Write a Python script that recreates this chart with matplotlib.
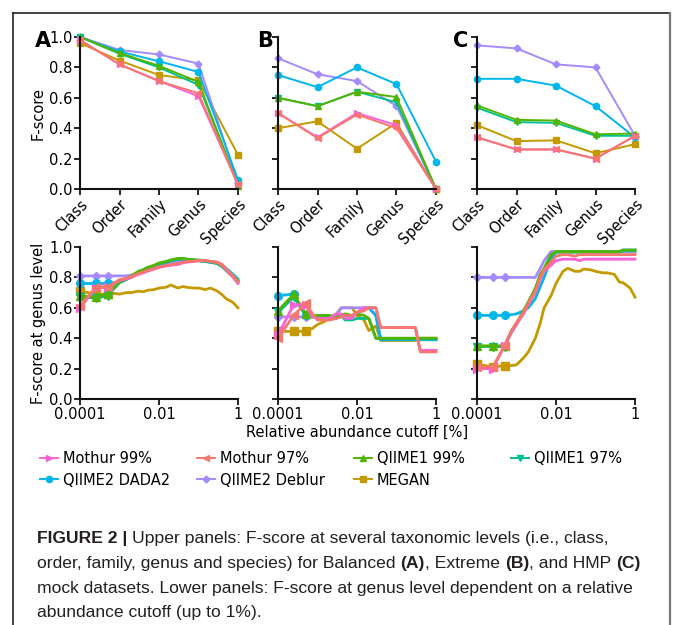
import numpy as np
import matplotlib
matplotlib.use('Agg')
import matplotlib.pyplot as plt
from matplotlib import font_manager

W, H = 673, 625

methods = ['Mothur 99%', 'Mothur 97%', 'QIIME1 99%', 'QIIME1 97%',
           'QIIME2 DADA2', 'QIIME2 Deblur', 'MEGAN']
colors = ['#FB61D7', '#F8766D', '#53B400', '#00C094', '#00B6EB', '#A58AFF', '#C49A00']
markers = ['>', '<', '^', 'v', 'o', 'D', 's']
levels = ['Class', 'Order', 'Family', 'Genus', 'Species']

# Upper panels: F-score per taxonomic level (order of methods as above)
fs_A = [
    [0.98, 0.82, 0.71, 0.61, 0.03],
    [0.98, 0.82, 0.71, 0.63, 0.03],
    [1.00, 0.895, 0.81, 0.705, 0.02],
    [1.00, 0.89, 0.80, 0.685, 0.03],
    [1.00, 0.905, 0.84, 0.77, 0.06],
    [1.00, 0.915, 0.885, 0.825, 0.04],
    [0.96, 0.845, 0.75, 0.715, 0.225],
]
fs_B = [
    [0.50, 0.34, 0.50, 0.42, 0.00],
    [0.50, 0.335, 0.49, 0.40, 0.00],
    [0.60, 0.545, 0.64, 0.605, 0.00],
    [0.60, 0.545, 0.64, 0.57, 0.00],
    [0.75, 0.67, 0.80, 0.69, 0.18],
    [0.86, 0.755, 0.71, 0.545, 0.00],
    [0.40, 0.445, 0.265, 0.435, 0.00],
]
fs_C = [
    [0.34, 0.26, 0.26, 0.20, 0.35],
    [0.34, 0.26, 0.26, 0.20, 0.35],
    [0.55, 0.455, 0.45, 0.36, 0.365],
    [0.535, 0.44, 0.435, 0.35, 0.35],
    [0.725, 0.725, 0.68, 0.545, 0.34],
    [0.945, 0.925, 0.82, 0.80, 0.35],
    [0.42, 0.315, 0.32, 0.235, 0.295],
]

# Lower panels: F-score at genus level vs relative abundance cutoff [%]
cutoffs = [0.0001, 0.00025, 0.0005, 0.00075, 0.001, 0.0015, 0.002, 0.003, 0.004,
           0.005, 0.0075, 0.01, 0.015, 0.02, 0.03, 0.04, 0.05, 0.075, 0.1, 0.15,
           0.2, 0.3, 0.4, 0.5, 0.75, 1.0]

cut_A = [
    [0.60, 0.73, 0.735, 0.76, 0.78, 0.79, 0.80, 0.82, 0.83, 0.84, 0.855, 0.865, 0.875,
     0.88, 0.885, 0.895, 0.90, 0.905, 0.91, 0.91, 0.905, 0.90, 0.88, 0.85, 0.80, 0.76],
    [0.61, 0.735, 0.74, 0.765, 0.785, 0.795, 0.805, 0.825, 0.835, 0.845, 0.86, 0.87, 0.88,
     0.885, 0.89, 0.90, 0.905, 0.905, 0.91, 0.91, 0.905, 0.90, 0.885, 0.855, 0.81, 0.77],
    [0.68, 0.67, 0.69, 0.74, 0.77, 0.79, 0.81, 0.84, 0.85, 0.865, 0.88, 0.895, 0.905,
     0.915, 0.925, 0.925, 0.92, 0.915, 0.915, 0.91, 0.905, 0.895, 0.875, 0.85, 0.81, 0.78],
    [0.67, 0.665, 0.68, 0.73, 0.765, 0.785, 0.805, 0.835, 0.85, 0.86, 0.875, 0.89, 0.90,
     0.91, 0.92, 0.92, 0.915, 0.915, 0.91, 0.905, 0.90, 0.89, 0.87, 0.845, 0.805, 0.775],
    [0.76, 0.76, 0.76, 0.765, 0.775, 0.79, 0.80, 0.825, 0.84, 0.85, 0.865, 0.88, 0.895,
     0.91, 0.92, 0.925, 0.92, 0.915, 0.91, 0.905, 0.90, 0.895, 0.88, 0.86, 0.82, 0.79],
    [0.81, 0.81, 0.81, 0.81, 0.81, 0.81, 0.815, 0.83, 0.84, 0.845, 0.86, 0.875, 0.89,
     0.90, 0.905, 0.91, 0.91, 0.91, 0.91, 0.905, 0.90, 0.895, 0.875, 0.85, 0.805, 0.77],
    [0.71, 0.69, 0.69, 0.695, 0.69, 0.70, 0.70, 0.71, 0.705, 0.715, 0.72, 0.73, 0.735,
     0.75, 0.73, 0.74, 0.735, 0.73, 0.73, 0.72, 0.73, 0.71, 0.685, 0.66, 0.635, 0.60],
]
cut_B = [
    [0.42, 0.62, 0.62, 0.54, 0.53, 0.53, 0.53, 0.56, 0.56, 0.53, 0.53, 0.57, 0.60,
     0.60, 0.60, 0.47, 0.47, 0.47, 0.47, 0.47, 0.47, 0.47, 0.32, 0.32, 0.32, 0.32],
    [0.40, 0.55, 0.63, 0.56, 0.52, 0.52, 0.52, 0.53, 0.54, 0.55, 0.55, 0.57, 0.58,
     0.60, 0.60, 0.47, 0.47, 0.47, 0.47, 0.47, 0.47, 0.47, 0.31, 0.31, 0.31, 0.31],
    [0.58, 0.69, 0.56, 0.55, 0.55, 0.55, 0.55, 0.54, 0.55, 0.56, 0.55, 0.56, 0.55,
     0.53, 0.40, 0.40, 0.40, 0.40, 0.40, 0.40, 0.40, 0.40, 0.40, 0.40, 0.40, 0.40],
    [0.57, 0.67, 0.55, 0.54, 0.54, 0.54, 0.54, 0.53, 0.55, 0.52, 0.52, 0.53, 0.53,
     0.53, 0.40, 0.395, 0.395, 0.395, 0.395, 0.395, 0.395, 0.395, 0.395, 0.395, 0.395, 0.395],
    [0.68, 0.69, 0.55, 0.55, 0.55, 0.55, 0.54, 0.54, 0.55, 0.55, 0.55, 0.56, 0.60,
     0.60, 0.55, 0.39, 0.39, 0.39, 0.39, 0.39, 0.39, 0.39, 0.39, 0.39, 0.39, 0.39],
    [0.54, 0.54, 0.54, 0.54, 0.54, 0.54, 0.54, 0.55, 0.60, 0.60, 0.60, 0.60, 0.60,
     0.60, 0.55, 0.39, 0.39, 0.39, 0.39, 0.39, 0.39, 0.39, 0.39, 0.39, 0.39, 0.39],
    [0.445, 0.445, 0.445, 0.465, 0.49, 0.51, 0.53, 0.56, 0.60, 0.60, 0.60, 0.55, 0.52,
     0.45, 0.48, 0.385, 0.385, 0.385, 0.385, 0.385, 0.385, 0.385, 0.40, 0.40, 0.40, 0.40],
]
cut_C = [
    [0.20, 0.20, 0.35, 0.44, 0.49, 0.56, 0.62, 0.70, 0.79, 0.84, 0.88, 0.91, 0.92,
     0.92, 0.92, 0.91, 0.92, 0.92, 0.92, 0.92, 0.92, 0.92, 0.92, 0.92, 0.92, 0.92],
    [0.21, 0.21, 0.35, 0.45, 0.50, 0.57, 0.63, 0.71, 0.80, 0.85, 0.90, 0.94, 0.95,
     0.95, 0.94, 0.95, 0.95, 0.95, 0.95, 0.95, 0.95, 0.95, 0.95, 0.95, 0.95, 0.95],
    [0.35, 0.35, 0.35, 0.45, 0.50, 0.58, 0.64, 0.73, 0.82, 0.86, 0.95, 0.97, 0.97,
     0.97, 0.97, 0.97, 0.97, 0.97, 0.97, 0.97, 0.97, 0.97, 0.97, 0.98, 0.98, 0.98],
    [0.345, 0.345, 0.345, 0.44, 0.49, 0.57, 0.63, 0.72, 0.81, 0.85, 0.94, 0.965, 0.965,
     0.965, 0.965, 0.965, 0.965, 0.965, 0.965, 0.965, 0.965, 0.965, 0.965, 0.975, 0.975, 0.975],
    [0.55, 0.55, 0.55, 0.555, 0.56, 0.58, 0.60, 0.66, 0.74, 0.80, 0.92, 0.97, 0.97,
     0.97, 0.97, 0.97, 0.97, 0.97, 0.97, 0.97, 0.97, 0.97, 0.97, 0.98, 0.98, 0.98],
    [0.80, 0.80, 0.80, 0.80, 0.80, 0.80, 0.80, 0.80, 0.86, 0.91, 0.97, 0.97, 0.97,
     0.97, 0.97, 0.97, 0.97, 0.97, 0.97, 0.97, 0.97, 0.97, 0.97, 0.97, 0.97, 0.97],
    [0.23, 0.21, 0.22, 0.22, 0.225, 0.27, 0.31, 0.40, 0.50, 0.60, 0.68, 0.76, 0.84,
     0.86, 0.84, 0.84, 0.855, 0.85, 0.84, 0.83, 0.83, 0.82, 0.77, 0.765, 0.73, 0.67],
]

plt.rcParams['font.family'] = ['DejaVu Sans']
plt.rcParams['font.size'] = 10.5

fig = plt.figure(figsize=(W / 100, H / 100), dpi=100)
fig.patch.set_facecolor('white')

draw_order = [6, 5, 4, 3, 2, 0, 1]
lefts = [80, 278, 477]
aw = 158


def style_axis(ax):
    for s in ['top', 'right']:
        ax.spines[s].set_visible(False)
    for s in ['left', 'bottom']:
        ax.spines[s].set_linewidth(1.5)
        ax.spines[s].set_color('#111111')
    ax.tick_params(direction='out', length=4, width=1.2, labelsize=10.5, pad=1.5)
    ax.set_ylim(0, 1.0)
    ax.set_yticks([0, 0.2, 0.4, 0.6, 0.8, 1.0])


top_data = [fs_A, fs_B, fs_C]
bot_data = [cut_A, cut_B, cut_C]
xpos = np.arange(len(levels))

top_axes = []
bot_axes = []
for p in range(3):
    ax = fig.add_axes([lefts[p] / W, (H - 189) / H, aw / W, 152 / H])
    style_axis(ax)
    for i in draw_order:
        ax.plot(xpos, top_data[p][i], color=colors[i], marker=markers[i],
                markersize=4.5 if markers[i] != 'D' else 3.5, lw=1.4,
                label=methods[i], clip_on=False)
    ax.set_xlim(0, 4)
    ax.set_xticks(xpos)
    ax.set_xticklabels(levels, rotation=45, ha='right', rotation_mode='anchor')
    if p == 0:
        ax.set_ylabel('F-score', labelpad=2)
    else:
        ax.set_yticklabels([])
    top_axes.append(ax)

    bx = fig.add_axes([lefts[p] / W, (H - 399) / H, aw / W, 152 / H])
    style_axis(bx)
    for i in draw_order:
        bx.plot(cutoffs, bot_data[p][i], color=colors[i], marker=markers[i],
                markevery=[0, 1, 2], markersize=5.5 if markers[i] != 'D' else 4.5,
                lw=2.0, clip_on=False)
    bx.set_xscale('log')
    bx.set_xlim(0.0001, 1)
    bx.set_xticks([0.0001, 0.01, 1])
    bx.set_xticklabels(['0.0001', '0.01', '1'])
    bx.minorticks_off()
    if p == 0:
        bx.set_ylabel('F-score at genus level', labelpad=2)
    else:
        bx.set_yticklabels([])
    if p == 1:
        bx.set_xlabel('Relative abundance cutoff [%]', labelpad=2)
    bot_axes.append(bx)

# panel letters
for lab, xp in zip(['A', 'B', 'C'], [35, 257, 453]):
    fig.text(xp / W, 1 - 41 / H, lab, fontsize=15, fontweight='bold', va='center', ha='left')

# legend: four columns placed individually
handles, labels = top_axes[0].get_legend_handles_labels()
hmap = dict(zip(labels, handles))
cols = [[0, 4], [1, 5], [2, 6], [3]]
col_x = [40, 197, 354, 511]
for cx, idxs in zip(col_x, cols):
    leg = fig.legend([hmap[methods[i]] for i in idxs], [methods[i] for i in idxs],
                     loc='upper left', bbox_to_anchor=(cx / W, 1 - 451 / H),
                     frameon=False, borderpad=0, borderaxespad=0,
                     handlelength=1.25, handletextpad=0.3, labelspacing=0.45,
                     fontsize=10.5)

# outer frame
fig.add_artist(plt.Line2D([13 / W, 13 / W], [0, 1 - 13 / H], transform=fig.transFigure,
                          color='#222222', lw=1.2))
fig.add_artist(plt.Line2D([13 / W, 670 / W], [1 - 13 / H, 1 - 13 / H], transform=fig.transFigure,
                          color='#222222', lw=1.2))
fig.add_artist(plt.Line2D([670 / W, 670 / W], [0, 1 - 13 / H], transform=fig.transFigure,
                          color='#777777', lw=1.6))

# caption
avail = {f.name for f in font_manager.fontManager.ttflist}
capfam = ['Liberation Sans Narrow', 'DejaVu Sans'] if 'Liberation Sans Narrow' in avail else ['Liberation Sans', 'DejaVu Sans']
capsize = 13.0 if 'Liberation Sans Narrow' in avail else 12.6
renderer = fig.canvas.get_renderer()


def text_w(s, bold):
    t = fig.text(0, 0, s, fontsize=capsize, family=capfam,
                 fontweight='bold' if bold else 'normal')
    w = t.get_window_extent(renderer=renderer).width
    t.remove()
    return w


space_w = text_w('a a', False) - text_w('aa', False)


def rich_line(x_px, y_px, pieces):
    x = x_px
    for s, bold in pieces:
        lead = len(s) - len(s.lstrip(' '))
        trail = len(s) - len(s.rstrip(' '))
        x += lead * space_w
        core = s.strip(' ')
        t = fig.text(x / W, 1 - y_px / H, core, fontsize=capsize, family=capfam,
                     fontweight='bold' if bold else 'normal', va='baseline', ha='left',
                     color='#231f20')
        bb = t.get_window_extent(renderer=renderer)
        x = bb.x1 + trail * space_w


rich_line(37, 543, [('FIGURE 2 |', True),
                    (' Upper panels: F-score at several taxonomic levels (i.e., class,', False)])
rich_line(37, 568, [('order, family, genus and species) for Balanced ', False), ('(A)', True),
                    (', Extreme ', False), ('(B)', True), (', and HMP ', False), ('(C)', True)])
rich_line(37, 593, [('mock datasets. Lower panels: F-score at genus level dependent on a relative', False)])
rich_line(37, 617, [('abundance cutoff (up to 1%).', False)])

fig.savefig('out.png', dpi=100)
